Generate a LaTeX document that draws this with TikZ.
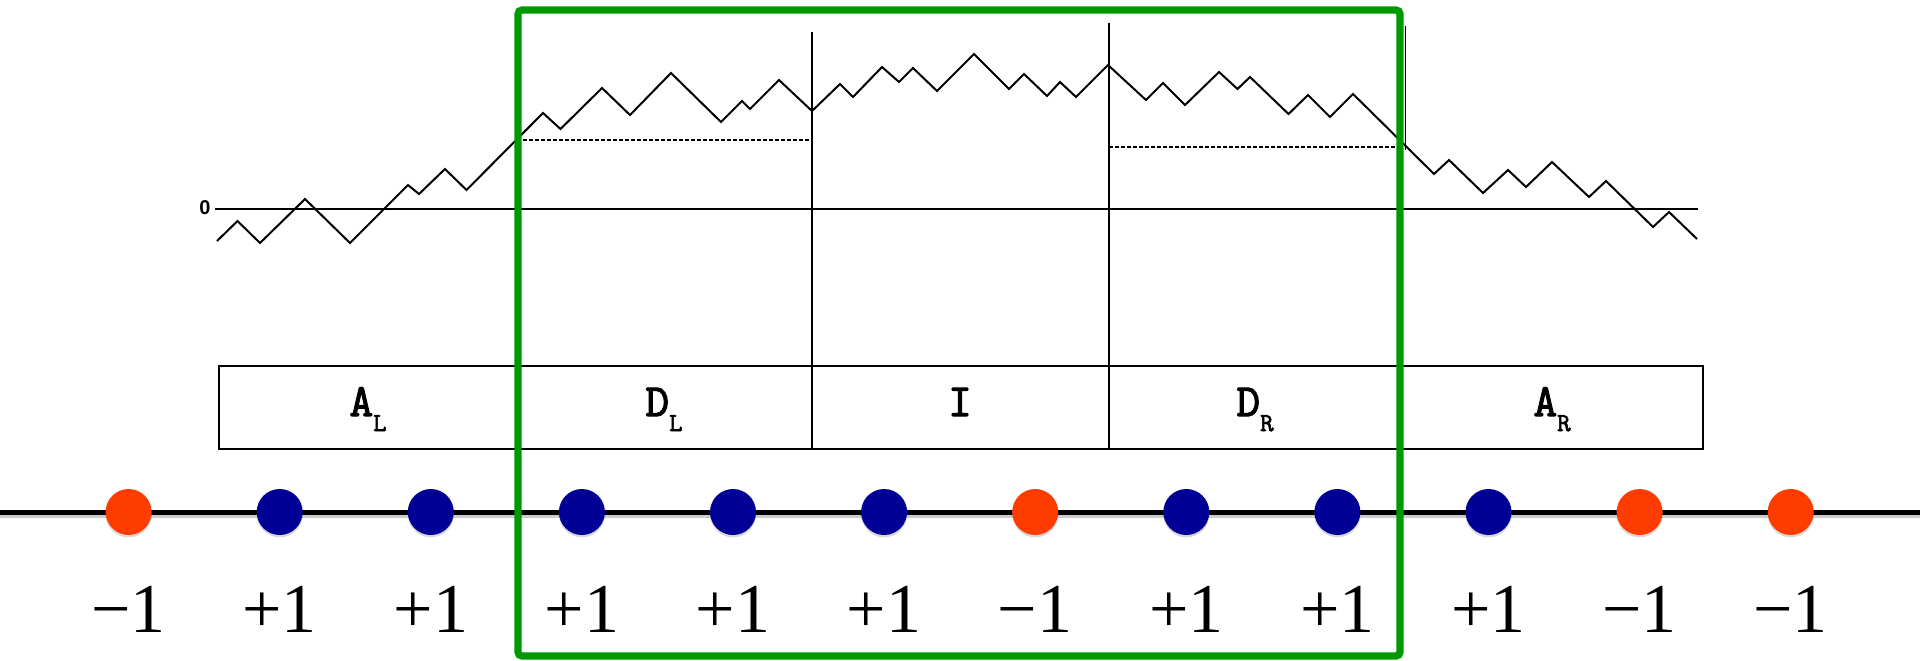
\documentclass[tikz,border=0pt]{standalone}
\usepackage{fontspec}
\setmainfont{Liberation Serif}
\newfontfamily\boxfont[AutoFakeBold=2.5]{Latin Modern Mono}
\newfontfamily\tickfont{Liberation Sans}
\usetikzlibrary{shadows}
\definecolor{spinred}{RGB}{255,60,0}
\definecolor{spinblue}{RGB}{0,0,150}
\definecolor{winbox}{RGB}{0,153,0}

\begin{document}
\begin{tikzpicture}[
  x=0.5pt, y=-0.5pt,
  walk/.style={line width=1pt, line join=miter},
  zeroline/.style={line width=1pt},
  divider/.style={line width=0.8pt},
  plateau/.style={line width=0.8pt, dash pattern=on 2pt off 1pt},
  cellline/.style={line width=0.8pt},
  cell/.style={font=\boxfont\bfseries\fontsize{23}{25}\selectfont, anchor=base, inner sep=0pt},
  spin/.style={circle, inner sep=0pt, minimum size=23pt,
               drop shadow={shadow xshift=0pt, shadow yshift=-1.2pt, opacity=.3}},
  val/.style={font=\fontsize{35}{38}\selectfont, anchor=base, inner sep=0pt},
  window/.style={draw=winbox, line width=3.6pt, rounded corners=2pt},
]
  \useasboundingbox (0,0) rectangle (1920,660);

  % ----- Walk above the zero level -----
  \node[font=\tickfont\bfseries\fontsize{10}{11}\selectfont, inner sep=0pt] (zero) at (205,208) {0};
  \draw[zeroline] (215,209) -- (1698,209);

  \draw[walk] (217,241) -- (237.5,221) -- (260,243) -- (305,199) -- (350,243)
    -- (408,185) -- (419,194) -- (445,169) -- (466.5,190) -- (543,113)
    -- (560.5,129) -- (602,88) -- (630,115) -- (671,73) -- (721,122)
    -- (742,101) -- (750,109) -- (779,80) -- (812,111) -- (840,84)
    -- (853,97) -- (882,67) -- (899,82) -- (913,68) -- (937,91)
    -- (974,54) -- (1009,89) -- (1024,74) -- (1047,96) -- (1060,82)
    -- (1076,97) -- (1108,65) -- (1146,100) -- (1163,83) -- (1185,105)
    -- (1219,72) -- (1237.5,89) -- (1250,77) -- (1288.5,114) -- (1308,95)
    -- (1330,117) -- (1353,94) -- (1434,174) -- (1449,160) -- (1483,193)
    -- (1508,170) -- (1526,187) -- (1552,162) -- (1589,197) -- (1606,181)
    -- (1653,227) -- (1669,212) -- (1697,239);

  % Dashed levels in D_L and D_R
  \draw[plateau] (517,140) -- (812,140);
  \draw[plateau] (1109,147) -- (1400,147);

  % ----- Split into blocks -----
  \draw[divider] (812,32) -- (812,449);
  \draw[divider] (1109,23) -- (1109,449);
  \draw[divider] (1405.5,26) -- (1405.5,150);

  \draw[cellline] (219,366) rectangle (1703,449);
  \draw[cellline] (517,366) -- (517,449);
  \draw[cellline] (1401,366) -- (1401,449);

  \node[cell] (AL) at (368,416)  {A\raisebox{-7.5pt}{\fontsize{13}{13}\selectfont L}};
  \node[cell] (DL) at (664,416)  {D\raisebox{-7.5pt}{\fontsize{13}{13}\selectfont L}};
  \node[cell] (I)  at (960,416)  {I};
  \node[cell] (DR) at (1255,416) {D\raisebox{-7.5pt}{\fontsize{13}{13}\selectfont R}};
  \node[cell] (AR) at (1552,416) {A\raisebox{-7.5pt}{\fontsize{13}{13}\selectfont R}};

  % ----- Spin chain -----
  \draw[line width=2.5pt, black!40, opacity=.5] (0,515) -- (1920,515);
  \draw[line width=2.5pt] (0,512) -- (1920,512);

  \foreach \col/\v [count=\i from 0] in {spinred/{−1}, spinblue/{+1}, spinblue/{+1},
      spinblue/{+1}, spinblue/{+1}, spinblue/{+1}, spinred/{−1}, spinblue/{+1},
      spinblue/{+1}, spinblue/{+1}, spinred/{−1}, spinred/{−1}} {
    \node[spin, fill=\col] (s\i) at ({128.6+151.1*\i},512) {};
    \node[val] (v\i) at ({128.6+151.1*\i},632) {\v};
  }

  % ----- Window -----
  \draw[window] (518,10) rectangle (1400,656);
\end{tikzpicture}
\end{document}
